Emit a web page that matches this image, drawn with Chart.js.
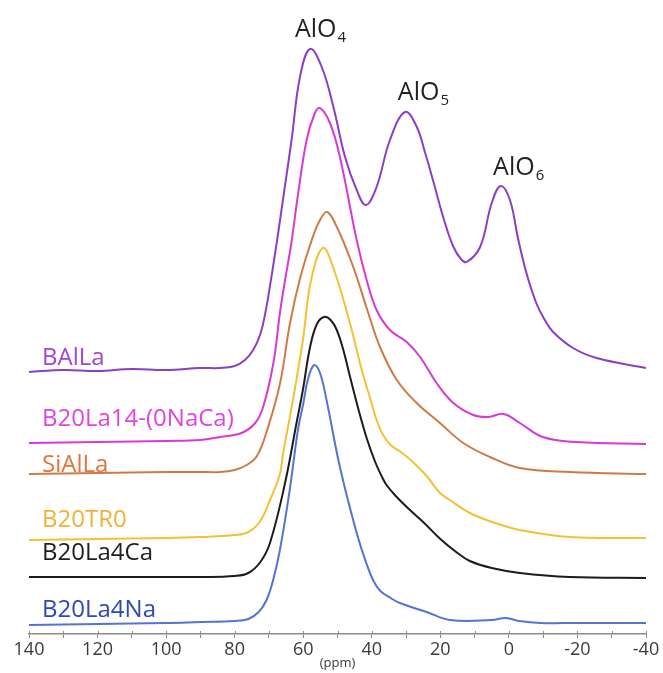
<!DOCTYPE html>
<html>
<head>
<meta charset="utf-8">
<script src="https://cdn.jsdelivr.net/npm/chart.js@4.4.0/dist/chart.umd.min.js"></script>
<style>
  html, body { margin: 0; padding: 0; background: #fff; }
  #wrap { width: 663px; height: 673px; }
</style>
</head>
<body>
<div id="wrap"><canvas id="nmrChart"></canvas></div>
<script>
// 27Al MAS NMR spectra, stacked (intensity values include the stacking offset)
const ppmBAlLa = [140, 130, 120, 110, 100, 90, 84.3, 80, 77, 74.6, 72.5, 71, 69.7, 67.7, 65.5, 63.4, 60.9, 58, 54.6, 51.2, 47.8, 44.4, 41.7, 38.6, 34.7, 30.3, 27, 24.5, 22, 19, 16.3, 14, 12.3, 8.4, 5, 2.4, -0.3, -2.7, -5.2, -8.1, -10.5, -12.9, -18.7, -25.6, -40];
const intBAlLa = [262, 264, 263, 265, 264, 266, 266, 268, 274, 284, 300, 322, 348, 392, 444, 494, 558, 585, 567, 527, 477, 444, 429, 447, 494, 522, 508, 482, 452, 415, 388, 375, 372, 387, 431, 448, 434, 395, 360, 330, 314, 302, 286, 276, 266];

const ppmB20La14 = [140, 120, 100, 90, 84.3, 78, 74, 71.7, 68.7, 66.8, 65.3, 63.5, 61.5, 59, 56.6, 55.1, 52.2, 49.3, 44.4, 41.5, 38.6, 34.7, 29.8, 25.9, 21.1, 16.2, 10.4, 6, 1.5, -3.2, -9.9, -19.8, -40];
const intB20La14 = [191, 192, 193, 194, 197, 201, 211, 227, 271, 321, 354, 390, 440, 494, 521, 526, 511, 477, 394, 354, 324, 304, 292, 277, 251, 231, 219, 217, 220, 211, 197, 192, 190];

const ppmSiAlLa = [140, 120, 100, 90, 84.3, 80, 76.5, 73.5, 70.7, 66.8, 63.9, 60.9, 57.5, 55.1, 53, 50.2, 46.5, 43.9, 41.5, 37.6, 32.7, 26.9, 20.1, 13.3, 5.5, -3.2, -17.8, -40];
const intSiAlLa = [160, 161, 162, 162, 162, 164, 169, 178, 202, 250, 310, 356, 394, 414, 422, 407, 377, 352, 326, 287, 254, 231, 211, 191, 177, 166, 162, 160];

const ppmB20TR0 = [140, 120, 100, 90, 80, 76, 72.5, 69.7, 66.8, 65.9, 63, 60.1, 57.7, 54.3, 51.3, 46.4, 43, 40.5, 38.5, 36.7, 34.5, 31.5, 28, 24, 20.1, 17.2, 11.4, 4, -3.2, -17.8, -40];
const intB20TR0 = [94, 95, 96, 97, 99, 102, 113, 134, 160, 180, 234, 294, 354, 386, 367, 311, 265, 236, 213, 199, 189, 182, 172, 158, 141, 134, 121, 111, 104, 97, 96];

const ppmB20La4Ca = [140, 120, 100, 90, 80, 76, 72.5, 69.7, 65.3, 61.9, 60.1, 58, 56, 53.9, 52, 50.2, 48.3, 46.4, 44, 41.5, 39, 37, 35.7, 33, 29.8, 25, 20, 15, 11.4, 5, -3.2, -17.8, -40];
const intB20La4Ca = [57, 57, 57, 57, 58, 61, 72, 91, 151, 212, 244, 287, 310, 317, 314, 304, 284, 258, 226, 196, 172, 157, 149, 138, 127, 112, 95, 81, 73, 66, 61, 57, 56];

const ppmB20La4Na = [140, 120, 100, 90, 80, 76, 73, 70.7, 68.7, 66.8, 63.9, 61.5, 60, 58.6, 56.8, 55.1, 53.2, 49.3, 44.4, 41.5, 39.5, 37.5, 34.5, 31.8, 24, 17.2, 5, 0.9, -3, -9.1, -20, -40];
const intB20La4Na = [9, 10, 11, 12, 13, 15, 22, 34, 55, 84, 145, 205, 230, 255, 269, 261, 234, 167, 101, 70, 53, 43, 36, 31, 22, 14, 14, 16, 13, 11, 11, 11];

const sampleNames = ['BAlLa', 'B20La14-(0NaCa)', 'SiAlLa', 'B20TR0', 'B20La4Ca', 'B20La4Na'];
const sampleLabelLevel = [269, 208, 162, 107, 74, 17];

const peakNames = ['AlO', 'AlO', 'AlO'];
const peakSubs = ['4', '5', '6'];
const peakLabelPpm = [62.4, 32.4, 4.6];
const peakLabelLevel = [597, 534, 459];

const xTickStep = 10;

const lineColors = ['#8b3ec6', '#d63ad4', '#cf7a45', '#f2c234', '#1c1c1c', '#5672d2'];
const textColors = ['#a145d6', '#e043de', '#e2733d', '#f0b236', '#1e1e1e', '#2f48b8'];

const allPpm = [ppmBAlLa, ppmB20La14, ppmSiAlLa, ppmB20TR0, ppmB20La4Ca, ppmB20La4Na];
const allInt = [intBAlLa, intB20La14, intSiAlLa, intB20TR0, intB20La4Ca, intB20La4Na];

const FONT = "'Open Sans', 'DejaVu Sans', sans-serif";

const datasets = sampleNames.map((name, i) => ({
    label: name,
    data: allPpm[i].map((p, k) => ({ x: p, y: allInt[i][k] })),
    borderColor: lineColors[i],
    borderWidth: 2,
    pointRadius: 0,
    fill: false,
    tension: 0.4
}));

// nom des échantillons + étiquettes des pics
const textPlugin = {
    id: 'nmrText',
    afterDraw(chart) {
        const { ctx, scales: { x, y } } = chart;
        ctx.save();
        ctx.textBaseline = 'alphabetic';
        ctx.textAlign = 'left';
        ctx.font = '24px ' + FONT;
        sampleNames.forEach((name, i) => {
            ctx.fillStyle = textColors[i];
            ctx.fillText(name, x.getPixelForValue(136.2), y.getPixelForValue(sampleLabelLevel[i]));
        });
        ctx.fillStyle = '#222';
        peakNames.forEach((name, i) => {
            const px = x.getPixelForValue(peakLabelPpm[i]);
            const py = y.getPixelForValue(peakLabelLevel[i]);
            ctx.font = '25px ' + FONT;
            ctx.fillText(name, px, py);
            const w = ctx.measureText(name).width;
            ctx.font = '15px ' + FONT;
            ctx.fillText(peakSubs[i], px + w + 1, py + 5);
        });
        // petites graduations au-dessus de l'axe
        ctx.strokeStyle = '#8a8a8a';
        ctx.lineWidth = 1;
        x.ticks.forEach(t => {
            const px = Math.round(x.getPixelForValue(t.value)) + 0.5;
            ctx.beginPath();
            ctx.moveTo(px, y.bottom - 3);
            ctx.lineTo(px, y.bottom);
            ctx.stroke();
        });
        ctx.restore();
    }
};

new Chart(document.getElementById('nmrChart'), {
    type: 'line',
    data: { datasets },
    options: {
        responsive: true,
        maintainAspectRatio: false,
        animation: false,
        layout: { padding: { left: 29, right: 17, top: 0, bottom: 0 } },
        plugins: { legend: { display: false }, tooltip: { enabled: false } },
        scales: {
            x: {
                type: 'linear',
                reverse: true,
                min: -40,
                max: 140,
                grid: { display: true, drawOnChartArea: false, drawTicks: true, tickLength: 4, color: '#8a8a8a' },
                border: { display: true, color: '#8a8a8a', width: 1.5 },
                ticks: {
                    stepSize: xTickStep,
                    autoSkip: false,
                    maxRotation: 0,
                    padding: 1,
                    color: '#3a3a3a',
                    font: { family: FONT, size: 18 },
                    callback: v => (v % 20 === 0 ? String(v) : '')
                },
                title: { display: true, text: '(ppm)', color: '#3a3a3a', font: { family: FONT, size: 13 }, padding: { top: 0, bottom: 2 } },
                afterFit: s => { s.height = 39; }
            },
            y: { display: false, min: 0, max: 634 }
        }
    },
    plugins: [textPlugin]
});
</script>
</body>
</html>
